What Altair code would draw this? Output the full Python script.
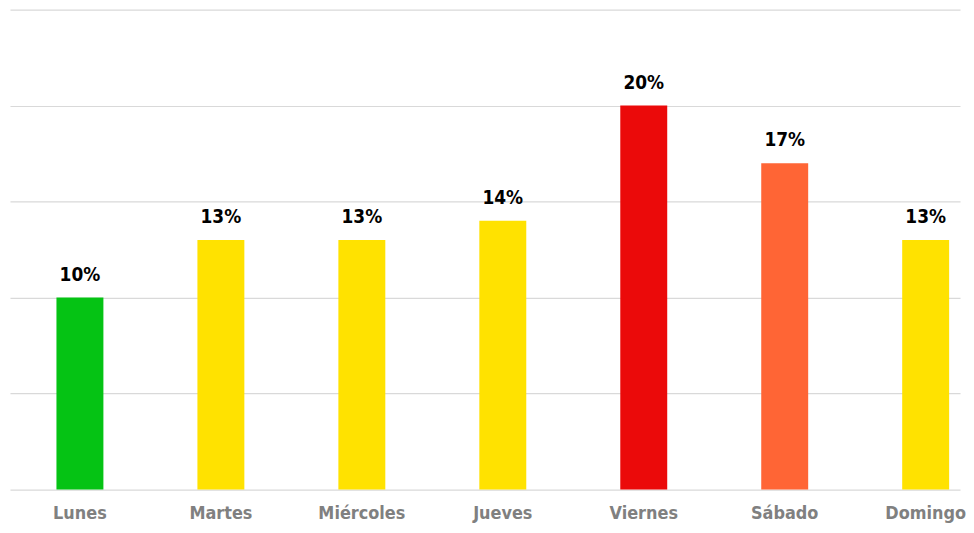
import altair as alt
import pandas as pd

dias = ["Lunes", "Martes", "Miércoles", "Jueves", "Viernes", "Sábado", "Domingo"]
valores = [0.10, 0.13, 0.13, 0.14, 0.20, 0.17, 0.13]
colores = ["#05C314", "#FFE200", "#FFE200", "#FFE200", "#EB0A0A", "#FF6535", "#FFE200"]
ticks_y = [0, 0.05, 0.10, 0.15, 0.20, 0.25]

df = pd.DataFrame({"dia": dias, "valor": valores})

FONT = "DejaVu Sans Condensed, sans-serif"

x = alt.X(
    "dia:N",
    sort=dias,
    scale=alt.Scale(paddingInner=0.667, paddingOuter=0.2035, align=0.81, round=False),
    axis=alt.Axis(
        title=None, labelAngle=0, domain=False, ticks=False, grid=False,
        labelFont=FONT, labelFontSize=18, labelColor="#808080", labelPadding=15,
        labelFontWeight="bold",
    ),
)
y = alt.Y(
    "valor:Q",
    scale=alt.Scale(domain=[0, 0.25], nice=False),
    axis=alt.Axis(
        title=None, labels=False, ticks=False, domain=False, grid=True,
        values=ticks_y, gridColor="#D9D9D9", gridWidth=1.2,
    ),
)

bars = alt.Chart(df).mark_bar().encode(
    x=x,
    y=y,
    color=alt.Color("dia:N", scale=alt.Scale(domain=dias, range=colores), legend=None),
)

text = alt.Chart(df).mark_text(
    baseline="alphabetic", dy=-17, font=FONT, fontSize=19, fontWeight="bold", color="#000000"
).encode(
    x=alt.X("dia:N", sort=dias),
    y=alt.Y("valor:Q"),
    text=alt.Text("valor:Q", format=".0%"),
)

chart = (
    alt.layer(bars, text)
    .properties(width=956, height=483, padding={"left": 2, "top": 0, "right": 0, "bottom": 0})
    .configure_view(stroke=None)
)

chart.save("out.html", embed_options={"renderer": "svg", "actions": False})
